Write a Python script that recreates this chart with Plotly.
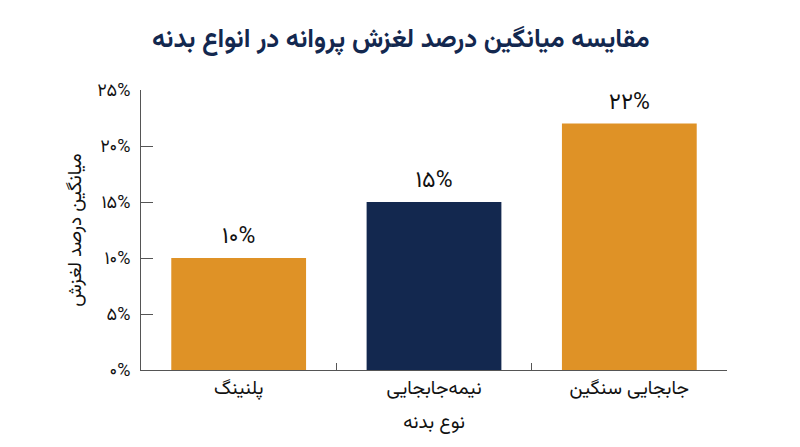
import plotly.graph_objects as go

hull_types = ['پلنینگ', 'نیمه‌جابجایی', 'جابجایی سنگین']
slip_pct = [10, 15, 22]
bar_labels = ['۱۰%', '۱۵%', '۲۲%']
bar_colors = ['#DF9226', '#13284F', '#DF9226']

y_tickvals = [0, 5, 10, 15, 20, 25]
y_ticktext = ['۰%', '۵%', '۱۰%', '۱۵%', '۲۰%', '۲۵%']

font_fam = "Vazirmatn, DejaVu Sans, sans-serif"

fig = go.Figure()
fig.add_trace(go.Bar(
    x=hull_types,
    y=slip_pct,
    text=bar_labels,
    textposition='outside',
    textfont=dict(size=23, color='#111111', family=font_fam),
    marker=dict(color=bar_colors, line=dict(width=0)),
    cliponaxis=False,
    showlegend=False
))

# page body has an 8px margin, so shift everything up/left by 8
fig.update_layout(
    width=800, height=447,
    margin=dict(l=133, r=81, t=82, b=85),
    plot_bgcolor='white',
    paper_bgcolor='white',
    bargap=0.31,
    font=dict(family=font_fam, size=15, color='#111111'),
    title=dict(
        text='<b>مقایسه میانگین درصد لغزش پروانه در انواع بدنه</b>',
        x=0.491, xanchor='center', y=0.932, yanchor='middle',
        font=dict(size=26, color='#13284F', family=font_fam)
    )
)

fig.update_xaxes(
    showline=True, linecolor='#555555', linewidth=1,
    ticks='inside', tickson='boundaries', ticklen=7, tickcolor='#555555',
    showgrid=False,
    tickfont=dict(size=19),
    title=dict(text='نوع بدنه', font=dict(size=19), standoff=11)
)

fig.update_yaxes(
    range=[0, 25],
    showline=True, linecolor='#555555', linewidth=1,
    ticks='inside', ticklen=12, tickcolor='#555555',
    tickvals=y_tickvals, ticktext=y_ticktext,
    ticklabelstandoff=6,
    showgrid=False, zeroline=False,
    tickfont=dict(size=18),
    title=dict(text='میانگین درصد لغزش', font=dict(size=19), standoff=10)
)

fig.write_html("out.html")
